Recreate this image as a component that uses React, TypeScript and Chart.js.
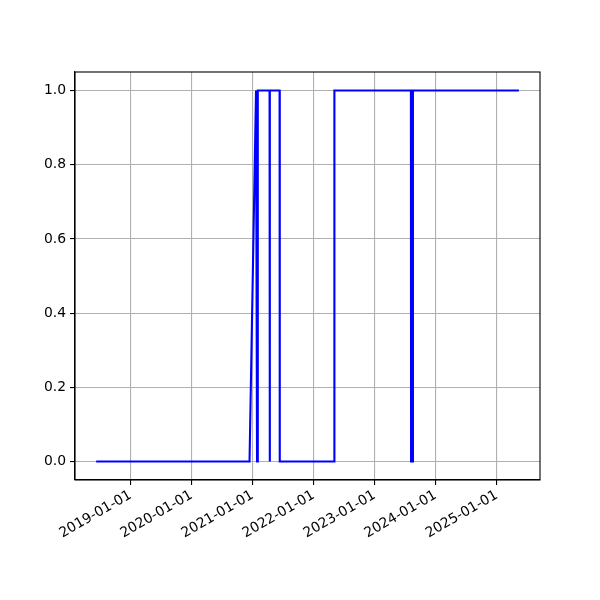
import React, { useEffect, useRef } from "react";
import { Chart, registerables } from "chart.js";

Chart.register(...registerables);

const dates: string[] = [
  "2018-06-09", "2020-12-13", "2021-01-21", "2021-01-26", "2021-01-27",
  "2021-01-31", "2021-02-01", "2021-04-12", "2021-04-13", "2021-04-14",
  "2021-06-11", "2021-06-12", "2022-05-04", "2022-05-05", "2023-08-06",
  "2023-08-07", "2023-08-17", "2023-08-18", "2025-05-13",
];
const values: number[] = [0, 0, 1, 1, 0, 0, 1, 1, 0, 1, 1, 0, 0, 1, 1, 0, 0, 1, 1];
const xTickDates: string[] = [
  "2019-01-01", "2020-01-01", "2021-01-01", "2022-01-01",
  "2023-01-01", "2024-01-01", "2025-01-01",
];
const yTicks: number[] = [0, 0.2, 0.4, 0.6, 0.8, 1.0];

const toDay = (s: string) => {
  const [y, m, d] = s.split("-").map(Number);
  return Date.UTC(y, m - 1, d) / 86400000;
};
const fromDay = (v: number) => {
  const dt = new Date(Math.round(v) * 86400000);
  const p = (n: number) => String(n).padStart(2, "0");
  return `${dt.getUTCFullYear()}-${p(dt.getUTCMonth() + 1)}-${p(dt.getUTCDate())}`;
};

const frame = {
  id: "frame",
  afterDraw(chart: any) {
    const { ctx, chartArea: a } = chart;
    ctx.save();
    ctx.strokeStyle = "#000";
    ctx.lineWidth = 1.1;
    ctx.strokeRect(a.left, a.top, a.right - a.left, a.bottom - a.top);
    ctx.restore();
  },
};

export default function App() {
  const ref = useRef<HTMLCanvasElement>(null);
  useEffect(() => {
    if (!ref.current) return;
    const xs = dates.map(toDay);
    const xmin = Math.min(...xs);
    const xmax = Math.max(...xs);
    const pad = (xmax - xmin) * 0.05;
    const font = { family: "DejaVu Sans", size: 13.9 };
    const chart = new Chart(ref.current, {
      type: "line",
      data: {
        datasets: [
          {
            data: xs.map((x, i) => ({ x, y: values[i] })),
            borderColor: "#0000ff",
            borderWidth: 2.1,
            pointRadius: 0,
            tension: 0,
            fill: false,
          },
        ],
      },
      options: {
        animation: false,
        responsive: false,
        maintainAspectRatio: false,
        layout: { padding: { top: 72, right: 60, left: 0, bottom: 0 } },
        plugins: { legend: { display: false }, tooltip: { enabled: false } },
        scales: {
          x: {
            type: "linear",
            min: xmin - pad,
            max: xmax + pad,
            afterBuildTicks: (s: any) => {
              s.ticks = xTickDates.map((d) => ({ value: toDay(d) }));
            },
            afterFit: (s: any) => {
              s.height = 120;
            },
            ticks: {
              autoSkip: false,
              minRotation: 30,
              maxRotation: 30,
              color: "#000",
              font,
              padding: 2,
              callback: (v: any) => fromDay(Number(v)),
            },
            grid: {
              color: "#b0b0b0",
              lineWidth: 1.1,
              tickColor: "#000",
              tickLength: 5,
            },
            border: { color: "#000", width: 1.1 },
          },
          y: {
            type: "linear",
            min: -0.05,
            max: 1.05,
            afterBuildTicks: (s: any) => {
              s.ticks = yTicks.map((v) => ({ value: v }));
            },
            afterFit: (s: any) => {
              s.width = 75;
            },
            ticks: {
              color: "#000",
              font,
              padding: 4,
              callback: (v: any) => Number(v).toFixed(1),
            },
            grid: {
              color: "#b0b0b0",
              lineWidth: 1.1,
              tickColor: "#000",
              tickLength: 5,
            },
            border: { color: "#000", width: 1.1 },
          },
        },
      },
      plugins: [frame],
    } as any);
    return () => chart.destroy();
  }, []);
  return (
    <div style={{ position: "fixed", left: 0, top: 0, width: 600, height: 600, background: "#fff" }}>
      <canvas ref={ref} width={600} height={600} style={{ width: 600, height: 600 }} />
    </div>
  );
}
